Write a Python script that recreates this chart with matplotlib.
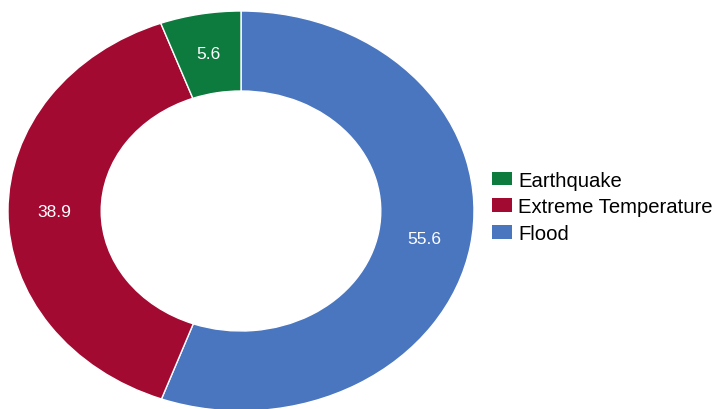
import matplotlib
matplotlib.use("Agg")
import matplotlib.pyplot as plt
from matplotlib.patches import Patch

categories = ["Flood", "Extreme Temperature", "Earthquake"]
values = [55.6, 38.9, 5.6]
colors = ["#4a76c0", "#a30a32", "#0d7a3e"]
legend_order = ["Earthquake", "Extreme Temperature", "Flood"]

plt.rcParams['font.family'] = ['Liberation Sans', 'DejaVu Sans']

fig = plt.figure(figsize=(7.16, 4.10), dpi=100)
ax = fig.add_axes([8/716, (410-412)/410, 466/716, 400/410])

vals_iter = iter(values)
wedges, texts, autotexts = ax.pie(
    values, colors=colors, startangle=90, counterclock=False,
    radius=1.0, wedgeprops=dict(width=0.4, edgecolor="white", linewidth=1.0),
    autopct=lambda p: f"{next(vals_iter):.1f}", pctdistance=0.8,
    textprops=dict(color="white", fontsize=12.5))
ax.set_aspect('auto')
ax.set_xlim(-1, 1)
ax.set_ylim(-1, 1)
ax.axis('off')

cmap = dict(zip(categories, colors))
handles = [Patch(facecolor=cmap[c], edgecolor='none', label=c) for c in legend_order]
fig.legend(handles=handles, loc='center left', bbox_to_anchor=(492/716, 0.493),
           bbox_transform=fig.transFigure, frameon=False, fontsize=14.6,
           handlelength=1.0, handleheight=0.65, handletextpad=0.3,
           labelspacing=0.38, borderpad=0, borderaxespad=0)

fig.savefig("out.png", dpi=100)
